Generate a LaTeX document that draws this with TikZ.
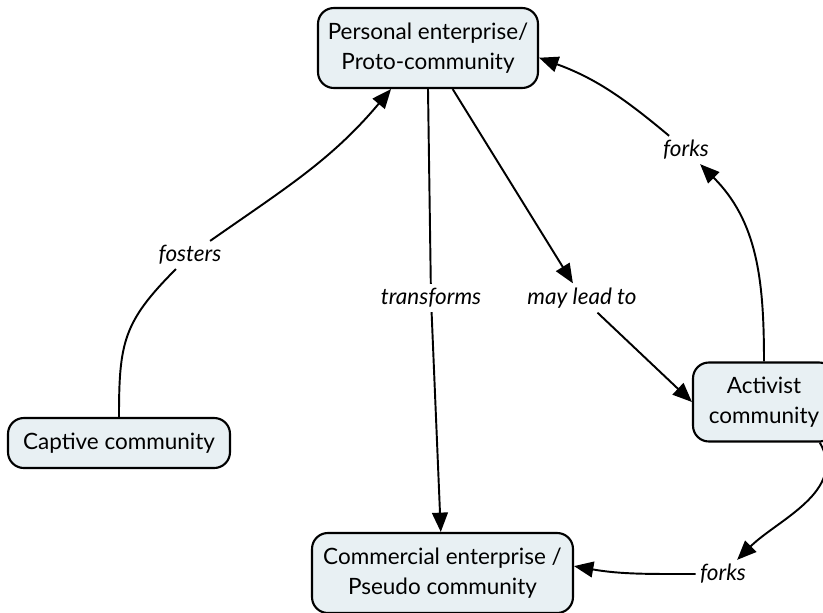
\documentclass[tikz,border=0pt]{standalone}
\usepackage{fontspec}
\setmainfont{Lato}
\usetikzlibrary{arrows.meta}
\definecolor{conceptfill}{RGB}{232,240,243}
\tikzset{
  concept/.style={draw, line width=1.2pt, rounded corners=9pt, fill=conceptfill,
    align=center, font=\fontsize{12.8}{17}\selectfont},
  link/.style={font=\fontsize{12.8}{14}\selectfont\itshape, inner sep=2pt},
  arr/.style={-{Triangle[length=11pt,width=9pt]}},
}
\begin{document}
\begin{tikzpicture}[x=0.02cm, y=-0.02cm, line width=1.1pt]
    \useasboundingbox (0,0) rectangle (823,613);
    % Concetti
    \node[concept, minimum width=4.4cm, minimum height=1.6cm] (personal) at (428,48) {Personal enterprise/\\Proto-community};
    \node[concept, minimum width=4.44cm, minimum height=1.0cm] (captive) at (119,443) {Captive community};
    \node[concept, minimum width=2.84cm, minimum height=1.58cm] (activist) at (764,402) {Activist\\community};
    \node[concept, minimum width=5.22cm, minimum height=1.6cm] (commercial) at (442.5,573) {Commercial enterprise /\\Pseudo community};

    % Etichette
    \node[link] (fosters) at (190,255) {fosters};
    \node[link] (transforms) at (431,298) {transforms};
    \node[link] (maylead) at (582,298) {may lead to};
    \node[link] (forksA) at (686,150) {forks};
    \node[link] (forksB) at (723,574) {forks};

    % Archi
    \draw (captive.north) to[out=90,in=225,looseness=1.2] (fosters);
    \draw[arr] (fosters) to[out=35,in=-130] (personal.-132);
    \draw (personal.south) -- (transforms);
    \draw[arr] (transforms) -- (commercial);
    \draw[arr] (personal.-59) -- (maylead);
    \draw[arr] (maylead) -- (activist.west);
    \draw[arr] (activist.north) to[out=90,in=-45] (forksA);
    \draw[arr] (forksA) to[out=140,in=-20] (personal.-5);
    \draw[arr] (activist.-36) to[out=-60,in=45] (forksB);
    \draw[arr] (forksB) to[out=180,in=-10] (commercial.3);
  \end{tikzpicture}
\end{document}
